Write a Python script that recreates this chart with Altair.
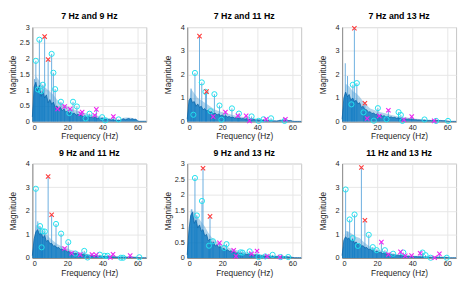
import altair as alt
import pandas as pd

TITLES = ["7 Hz and 9 Hz", "7 Hz and 11 Hz", "7 Hz and 13 Hz",
          "9 Hz and 11 Hz", "9 Hz and 13 Hz", "11 Hz and 13 Hz"]
YMAX = [3, 4, 4, 4, 3, 4]

# dense spectrum (dark band), 1 Hz steps from 0 to 65 Hz
DARK_F = list(range(66))
DARK_1 = [0.15, 1.1, 1.25, 0.95, 1.15, 0.8, 0.95, 0.75, 0.85, 0.6, 0.7, 0.55, 0.62, 0.45, 0.5, 0.38,
          0.45, 0.35, 0.4, 0.3, 0.34, 0.26, 0.3, 0.24, 0.27, 0.2, 0.24, 0.18, 0.21, 0.16, 0.19, 0.14,
          0.17, 0.13, 0.15, 0.12, 0.14, 0.1, 0.12, 0.09, 0.1, 0.07, 0.08, 0.06, 0.07, 0.05, 0.06, 0.04,
          0.05, 0.03, 0.04, 0.07, 0.09, 0.06, 0.08, 0.1, 0.07, 0.09, 0.06, 0.08, 0.02, 0.01, 0.01, 0.01,
          0.01, 0.01]
DARK_2 = [0.1, 0.9, 1.0, 0.8, 0.85, 0.65, 0.75, 0.6, 0.65, 0.5, 0.55, 0.45, 0.48, 0.38, 0.42, 0.33,
          0.36, 0.28, 0.32, 0.25, 0.28, 0.22, 0.25, 0.19, 0.22, 0.17, 0.19, 0.15, 0.17, 0.13, 0.15, 0.12,
          0.13, 0.1, 0.12, 0.09, 0.1, 0.08, 0.09, 0.07, 0.08, 0.06, 0.07, 0.05, 0.06, 0.05, 0.05, 0.04,
          0.05, 0.03, 0.03, 0.02, 0.04, 0.06, 0.05, 0.07, 0.05, 0.06, 0.04, 0.05, 0.02, 0.01, 0.01, 0.01,
          0.01, 0.01]
DARK_3 = [0.1, 1.0, 1.25, 1.05, 1.15, 0.9, 1.0, 0.85, 0.9, 0.75, 0.8, 0.6, 0.65, 0.5, 0.5, 0.4,
          0.42, 0.34, 0.36, 0.3, 0.32, 0.26, 0.28, 0.23, 0.25, 0.2, 0.22, 0.18, 0.2, 0.16, 0.18, 0.14,
          0.16, 0.13, 0.14, 0.11, 0.12, 0.1, 0.11, 0.09, 0.1, 0.08, 0.08, 0.07, 0.07, 0.06, 0.06, 0.05,
          0.05, 0.04, 0.05, 0.04, 0.05, 0.04, 0.05, 0.04, 0.05, 0.04, 0.04, 0.04, 0.02, 0.01, 0.01, 0.01,
          0.01, 0.01]
DARK_4 = [0.1, 0.8, 1.1, 1.2, 1.0, 1.05, 0.85, 0.95, 0.7, 0.75, 0.6, 0.62, 0.5, 0.52, 0.42, 0.45,
          0.36, 0.38, 0.3, 0.32, 0.26, 0.27, 0.22, 0.23, 0.19, 0.2, 0.16, 0.17, 0.14, 0.15, 0.12, 0.13,
          0.1, 0.11, 0.09, 0.1, 0.08, 0.09, 0.07, 0.08, 0.06, 0.07, 0.05, 0.06, 0.05, 0.05, 0.04, 0.05,
          0.04, 0.04, 0.03, 0.04, 0.03, 0.04, 0.03, 0.04, 0.03, 0.04, 0.03, 0.03, 0.02, 0.01, 0.01, 0.01,
          0.01, 0.01]
DARK_5 = [0.1, 0.9, 1.35, 1.45, 1.1, 1.2, 0.95, 1.05, 0.85, 0.9, 0.7, 0.75, 0.55, 0.6, 0.45, 0.5,
          0.38, 0.42, 0.33, 0.36, 0.28, 0.3, 0.24, 0.26, 0.21, 0.23, 0.18, 0.2, 0.16, 0.17, 0.14, 0.15,
          0.12, 0.13, 0.11, 0.12, 0.1, 0.11, 0.09, 0.1, 0.08, 0.08, 0.07, 0.07, 0.06, 0.06, 0.05, 0.06,
          0.05, 0.05, 0.04, 0.05, 0.04, 0.05, 0.04, 0.04, 0.04, 0.04, 0.03, 0.03, 0.02, 0.01, 0.01, 0.01,
          0.01, 0.01]
DARK_6 = [0.1, 0.75, 0.9, 0.8, 0.85, 0.7, 0.78, 0.62, 0.68, 0.55, 0.6, 0.5, 0.52, 0.42, 0.45, 0.36,
          0.38, 0.3, 0.32, 0.26, 0.28, 0.22, 0.24, 0.19, 0.21, 0.17, 0.18, 0.14, 0.15, 0.12, 0.13, 0.11,
          0.12, 0.09, 0.1, 0.08, 0.09, 0.07, 0.08, 0.06, 0.07, 0.05, 0.06, 0.05, 0.05, 0.04, 0.05, 0.04,
          0.04, 0.03, 0.04, 0.03, 0.04, 0.03, 0.04, 0.03, 0.03, 0.03, 0.03, 0.03, 0.02, 0.01, 0.01, 0.01,
          0.01, 0.01]

# lighter spread band, 2 Hz steps from 0 to 60 Hz
LIGHT_F = list(range(0, 61, 2))
LIGHT_1 = [0.2, 1.45, 1.3, 1.15, 1.05, 0.95, 0.85, 0.7, 0.6, 0.55, 0.48, 0.42, 0.38, 0.34, 0.3, 0.27,
           0.24, 0.22, 0.2, 0.18, 0.15, 0.13, 0.11, 0.09, 0.07, 0.06, 0.12, 0.13, 0.12, 0.11, 0.05]
LIGHT_2 = [0.15, 1.4, 1.2, 1.0, 0.9, 0.8, 0.7, 0.6, 0.5, 0.45, 0.4, 0.35, 0.32, 0.28, 0.25, 0.22,
           0.2, 0.18, 0.16, 0.14, 0.12, 0.11, 0.1, 0.09, 0.08, 0.05, 0.06, 0.08, 0.08, 0.07, 0.03]
LIGHT_3 = [0.2, 1.6, 1.5, 1.3, 1.2, 1.05, 0.85, 0.7, 0.55, 0.5, 0.45, 0.4, 0.36, 0.32, 0.28, 0.25,
           0.22, 0.2, 0.18, 0.16, 0.14, 0.12, 0.11, 0.1, 0.09, 0.08, 0.07, 0.07, 0.06, 0.06, 0.03]
LIGHT_4 = [0.15, 1.4, 1.35, 1.2, 1.0, 0.85, 0.72, 0.6, 0.52, 0.45, 0.4, 0.34, 0.3, 0.26, 0.23, 0.2,
           0.17, 0.15, 0.13, 0.12, 0.1, 0.09, 0.08, 0.07, 0.06, 0.05, 0.05, 0.05, 0.05, 0.04, 0.03]
LIGHT_5 = [0.15, 1.55, 1.45, 1.3, 1.15, 1.0, 0.8, 0.65, 0.55, 0.48, 0.42, 0.37, 0.32, 0.28, 0.25, 0.22,
           0.2, 0.18, 0.16, 0.14, 0.13, 0.11, 0.1, 0.09, 0.08, 0.07, 0.06, 0.06, 0.05, 0.05, 0.03]
LIGHT_6 = [0.15, 1.15, 1.1, 1.0, 0.9, 0.85, 0.7, 0.58, 0.48, 0.42, 0.36, 0.32, 0.28, 0.24, 0.2, 0.18,
           0.16, 0.14, 0.12, 0.11, 0.1, 0.09, 0.08, 0.07, 0.06, 0.05, 0.05, 0.05, 0.04, 0.04, 0.03]

# cyan circles (detected peaks)
CIRC_F = [
    [2, 4, 3.2, 5.0, 6.0, 11, 12, 13, 16.3, 23.2, 25.4, 21.1, 32.6, 30.4, 39.8, 41.6, 49.2],
    [4.4, 8.3, 10.4, 15.5, 18.4, 25.5, 29.5, 36.7, 3.5, 13.3, 19.5, 40.7, 43.5, 47.8, 55.5],
    [5.3, 6.1, 8.4, 12.2, 18.1, 20.4, 25.3, 32.2, 33.5, 34.4, 47.0, 53.6, 60.4],
    [2, 4.4, 5.8, 7.1, 5.3, 13.5, 16.4, 20.5, 29.6, 24.5, 31.5, 38.5, 41.3, 42.9, 50.5, 51.8, 61],
    [4.4, 5.5, 8.4, 12.4, 14.7, 22.4, 21.1, 30.4, 31.5, 35.6, 40.7, 44.5, 48.7, 53.3, 57.6],
    [2, 4.3, 7.1, 6.0, 9.0, 15.2, 17.5, 19.7, 24.4, 29.1, 34.9, 45.9, 47.6, 50.5, 59.7],
]
CIRC_M = [
    [1.93, 2.6, 1.02, 0.97, 1.17, 2.15, 1.55, 1.03, 0.63, 0.63, 0.48, 0.27, 0.25, 0.1, 0.14, 0.04, 0.07],
    [2.06, 1.66, 1.26, 1.16, 0.68, 0.56, 0.34, 0.22, 0.29, 0.44, 0.08, 0.03, 0.1, 0.14, 0.03],
    [0.73, 1.56, 1.63, 0.39, 0.04, 0.57, 0.1, 0.4, 0.28, 0.03, 0.09, 0.03, 0.03],
    [2.93, 1.35, 1.13, 1.12, 0.45, 1.44, 1.03, 0.67, 0.3, 0.19, 0.02, 0.14, 0.09, 0.09, 0.01, 0.01, 0.03],
    [2.54, 1.35, 1.81, 0.39, 0.53, 0.44, 0.32, 0.18, 0.17, 0.21, 0.03, 0.05, 0.1, 0.03, 0.03],
    [2.9, 1.63, 1.84, 0.84, 0.51, 0.98, 0.46, 0.33, 0.33, 0.18, 0.23, 0.23, 0.12, 0.01, 0.01],
]

# red crosses (stimulus frequencies)
RED_F = [[7, 9], [7, 11], [7, 13], [9, 11], [9, 13], [11, 13]]
RED_M = [[2.7, 1.97], [3.62, 1.27], [3.95, 0.78], [3.45, 1.83], [2.85, 1.32], [3.83, 1.6]]

# magenta crosses (harmonics / combinations)
MAG_F = [
    [14.4, 18.4, 21.5, 27.6, 28.4, 35.6, 36.5, 46.2],
    [14.8, 21.8, 28.9, 33.6, 35.5, 45, 56],
    [14.3, 21.2, 26.4, 35.2, 39.7, 52.5],
    [18.4, 22.4, 27.3, 34, 36.4, 44.5, 46, 55.8],
    [18.4, 26.5, 27.8, 36.7, 39.8, 45.6, 52.9],
    [22.4, 26.4, 33.3, 36, 39.6, 44.5, 52.8, 55.5],
]
MAG_M = [
    [0.4, 0.48, 0.4, 0.25, 0.3, 0.2, 0.39, 0.16],
    [0.21, 0.4, 0.25, 0.25, 0.03, 0.1, 0.1],
    [0.13, 0.24, 0.48, 0.08, 0.21, 0.03],
    [0.4, 0.2, 0.14, 0.15, 0.13, 0.02, 0.16, 0.1],
    [0.48, 0.24, 0.05, 0.13, 0.22, 0.05, 0.03],
    [0.67, 0.15, 0.26, 0.09, 0.1, 0.2, 0.01, 0.18],
]

# extra narrow spikes without markers
SPK_F = [[1.2], [2.2], [1.8, 3.1], [3.1], [2.6], [3.2]]
SPK_M = [[1.35], [1.4], [2.47, 1.93], [1.55], [1.55], [1.12]]

BLUE = "#0072BD"
W, H = 117, 97


def panel(i):
    ymax = YMAX[i]
    yvals = [0, 0.5, 1, 1.5, 2, 2.5, 3] if ymax == 3 else [0, 1, 2, 3, 4]
    x = alt.X("f:Q", scale=alt.Scale(domain=[0, 65], nice=False, zero=True),
              axis=alt.Axis(values=[0, 20, 40, 60], title="Frequency (Hz)"))
    y = alt.Y("m:Q", scale=alt.Scale(domain=[0, ymax], nice=False, clamp=True),
              axis=alt.Axis(values=yvals, format="~g", title="Magnitude",
                            minExtent=13, maxExtent=13))
    dark = pd.DataFrame({"f": DARK_F, "m": [DARK_1, DARK_2, DARK_3, DARK_4, DARK_5, DARK_6][i]})
    light = pd.DataFrame({"f": LIGHT_F, "m": [LIGHT_1, LIGHT_2, LIGHT_3, LIGHT_4, LIGHT_5, LIGHT_6][i]})
    circ = pd.DataFrame({"f": CIRC_F[i], "m": CIRC_M[i]})
    red = pd.DataFrame({"f": RED_F[i], "m": RED_M[i]})
    mag = pd.DataFrame({"f": MAG_F[i], "m": MAG_M[i]})
    spk = pd.DataFrame({"f": CIRC_F[i] + RED_F[i] + MAG_F[i] + SPK_F[i],
                        "m": CIRC_M[i] + RED_M[i] + MAG_M[i] + SPK_M[i]})
    xpath = "M-1,-1L1,1M-1,1L1,-1"
    layers = [
        alt.Chart(light).mark_area(color=BLUE, opacity=0.3).encode(x=x, y=y),
        alt.Chart(spk).mark_rule(color="#5aa5dc", strokeWidth=1, opacity=0.9).encode(
            x=x, y=y, y2=alt.datum(0)),
        alt.Chart(dark).mark_area(color=BLUE, opacity=0.75).encode(x=x, y=y),
        alt.Chart(dark).mark_line(color="#0a66aa", strokeWidth=0.8).encode(x=x, y=y),
        alt.Chart(circ).mark_point(shape="circle", filled=False, color="#22e0ee",
                                   strokeWidth=1, size=28, opacity=1).encode(x=x, y=y),
        alt.Chart(mag).mark_point(shape=xpath, filled=False, color="#f020f0",
                                  strokeWidth=1.1, size=20, opacity=1).encode(x=x, y=y),
        alt.Chart(red).mark_point(shape=xpath, filled=False, color="#ff3a3a",
                                  strokeWidth=1.1, size=20, opacity=1).encode(x=x, y=y),
    ]
    return alt.layer(*layers).properties(width=W, height=H, title=TITLES[i])


row1 = alt.hconcat(panel(0), panel(1), panel(2), spacing=14)
row2 = alt.hconcat(panel(3), panel(4), panel(5), spacing=14)
chart = alt.vconcat(row1, row2, spacing=7).properties(padding=0).configure_axis(
    labelFont="Liberation Sans", labelFontSize=7.5, labelColor="#262626", labelPadding=3,
    titleFont="Liberation Sans", titleFontSize=8.5, titleFontWeight="normal", titleColor="#262626",
    titlePadding=2, gridColor="#e6e6e6", domainColor="#8c8c8c", ticks=False
).configure_axisX(labelPadding=2, titlePadding=1).configure_view(
    stroke="#c4c4c4"
).configure_title(
    font="Liberation Sans", fontSize=9, fontWeight="bold", color="#000000", offset=2
)

chart.save("out.html", embed_options={"renderer": "svg", "actions": False})
